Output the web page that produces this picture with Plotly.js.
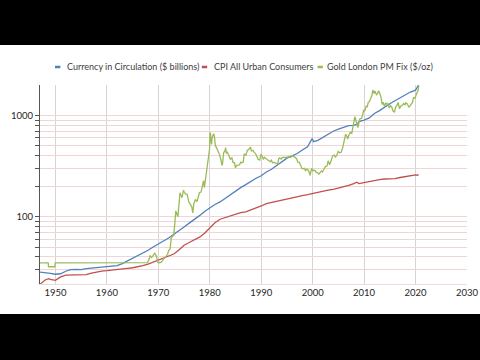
<!DOCTYPE html>
<html>
<head>
<meta charset="utf-8">
<script src="https://cdn.plot.ly/plotly-3.0.1.min.js"></script>
<style>
html,body{margin:0;padding:0;background:#000;width:480px;height:360px;overflow:hidden;}
#chart{position:absolute;left:0;top:45px;width:480px;height:269px;background:#fff;}
</style>
</head>
<body>
<div id="chart"></div>
<script>
// Currency in Circulation ($ billions)
const currYears = [1947,1948,1949,1950,1951,1952,1953,1954,1955,1956,1957,1958,1959,1960,1961,1962,1963,1964,1965,1966,1967,1968,1969,1970,1971,1972,1973,1974,1975,1976,1977,1978,1979,1980,1981,1982,1983,1984,1985,1986,1987,1988,1989,1990,1991,1992,1993,1994,1995,1996,1997,1998,1999,1999.9,2000.2,2001,2002,2003,2004,2005,2006,2007,2008,2008.7,2009,2010,2011,2012,2013,2014,2015,2016,2017,2018,2019,2020,2020.3,2020.6];
const currValues = [28.3,28.1,27.6,27.0,27.3,28.9,30.0,30.2,30.0,30.7,31.0,31.1,31.6,32.1,32.0,32.8,34.4,36.5,38.8,41.3,43.9,46.6,50.1,53.3,57.5,61.6,66.6,72.1,79.1,86.3,93.4,102.3,112.3,121.8,131.9,139.7,151.9,165.5,179.2,193.4,207.0,224.6,239.6,253.2,276.4,293.5,319.5,348.8,378.0,399.0,420.4,454.5,489.9,590,550,567,610,656,697,733,767,794,798,820,870,898,944,1043,1114,1213,1301,1394,1495,1594,1701,1774,1880,2000];

// CPI All Urban Consumers
const cpiYears = [1947,1948,1948.7,1949,1950,1951,1952,1953,1954,1955,1956,1957,1958,1959,1960,1961,1962,1963,1964,1965,1966,1967,1968,1969,1970,1971,1972,1973,1974,1975,1976,1977,1978,1979,1980,1981,1982,1983,1984,1985,1986,1987,1988,1989,1990,1991,1992,1993,1994,1995,1996,1997,1998,1999,2000,2001,2002,2003,2004,2005,2006,2007,2008,2008.55,2009,2010,2011,2012,2013,2014,2015,2016,2017,2018,2019,2020,2020.3,2020.6];
const cpiValues = [21.5,23.7,24.4,24.0,23.5,25.4,26.5,26.6,26.9,26.8,26.8,27.7,28.5,29.0,29.3,29.8,30.0,30.4,30.9,31.3,31.9,32.9,34.0,35.5,37.3,39.0,41.1,42.8,46.8,52.3,55.6,58.7,62.7,68.5,78.0,87.2,94.3,97.8,101.9,105.7,109.5,111.4,116.0,121.2,127.5,134.7,138.3,142.8,146.3,150.5,154.7,159.4,161.6,164.7,169.3,175.6,177.7,182.6,186.3,191.6,199.3,203.4,212.2,219.0,211.9,217.5,221.2,227.8,231.7,235.3,234.7,237.7,243.6,248.9,252.6,258.7,256.4,259.9];

// Gold London PM Fix ($/oz)
const goldYears = [1947.0,1948.6,1948.65,1949.9,1949.95,1955,1960,1962,1965,1967.9,1968.2,1968.4,1968.7,1969.0,1969.3,1969.6,1969.9,1970.2,1970.6,1970.9,1971.2,1971.5,1971.8,1972.0,1972.3,1972.5,1972.8,1973.0,1973.2,1973.4,1973.6,1973.8,1974.0,1974.2,1974.4,1974.6,1974.9,1975.0,1975.3,1975.6,1975.9,1976.2,1976.5,1976.7,1976.9,1977.2,1977.5,1977.8,1978.0,1978.3,1978.6,1978.8,1978.95,1979.2,1979.5,1979.7,1979.85,1979.95,1980.05,1980.15,1980.25,1980.35,1980.45,1980.6,1980.75,1980.9,1981.1,1981.3,1981.5,1981.7,1981.9,1982.1,1982.4,1982.5,1982.7,1982.9,1983.1,1983.2,1983.4,1983.6,1983.8,1984.0,1984.3,1984.5,1984.8,1985.0,1985.2,1985.5,1985.8,1986.0,1986.2,1986.5,1986.7,1987.0,1987.3,1987.6,1987.9,1988.1,1988.4,1988.6,1988.9,1989.2,1989.4,1989.7,1989.95,1990.1,1990.4,1990.6,1990.8,1991.1,1991.4,1991.7,1991.95,1992.2,1992.5,1992.7,1992.95,1993.2,1993.4,1993.6,1993.9,1994.1,1994.5,1994.9,1995.3,1995.7,1996.0,1996.3,1996.6,1996.9,1997.1,1997.4,1997.6,1997.9,1998.1,1998.4,1998.6,1998.9,1999.2,1999.5,1999.8,2000.0,2000.2,2000.5,2000.7,2000.95,2001.2,2001.4,2001.7,2001.9,2002.2,2002.5,2002.8,2003.0,2003.3,2003.6,2003.9,2004.2,2004.4,2004.7,2004.95,2005.2,2005.5,2005.8,2005.95,2006.2,2006.4,2006.6,2006.8,2007.0,2007.3,2007.6,2007.8,2007.95,2008.2,2008.4,2008.6,2008.8,2009.0,2009.2,2009.5,2009.7,2009.9,2010.1,2010.4,2010.6,2010.8,2011.0,2011.3,2011.5,2011.7,2011.8,2011.95,2012.1,2012.4,2012.6,2012.8,2013.0,2013.3,2013.5,2013.7,2013.95,2014.2,2014.4,2014.6,2014.9,2015.1,2015.4,2015.6,2015.9,2016.1,2016.4,2016.6,2016.9,2017.1,2017.4,2017.7,2017.95,2018.1,2018.4,2018.7,2018.95,2019.2,2019.4,2019.6,2019.9,2020.1,2020.3,2020.5,2020.6];
const goldValues = [35,35,32,32,35,35,35.2,35.1,35.1,35.2,38,41,39.5,42,43.5,41,35.5,35.1,35.6,37.4,38.9,40.5,42.5,46,48.5,61,64.8,65,84,114,106,100,129,172,163,154,183,176,167,166,141,132,125,109,134,148,141,158,173,175,200,227,193,240,280,340,390,460,675,665,553,517,600,630,660,620,500,480,460,430,410,375,320,340,430,440,480,420,437,414,396,370,380,345,340,303,320,320,325,345,340,345,418,400,450,462,487,445,451,433,420,388,368,362,410,405,368,386,380,366,360,349,361,341,343,340,335,330,372,380,370,385,385,384,390,383,400,393,385,372,346,344,324,300,297,300,285,294,286,256,300,285,287,285,274,272,262,270,283,276,296,314,316,356,326,363,400,406,385,405,441,427,430,470,510,560,650,633,585,630,680,665,760,800,970,890,840,760,850,930,935,1000,1130,1100,1230,1215,1340,1360,1480,1570,1780,1650,1640,1740,1600,1630,1750,1670,1500,1280,1350,1225,1330,1290,1310,1180,1250,1200,1110,1070,1200,1260,1340,1160,1230,1260,1310,1265,1330,1300,1200,1250,1300,1340,1500,1480,1590,1700,1780,1970];

const seriesNames = ['Currency in Circulation ($ billions)','CPI All Urban Consumers','Gold London PM Fix ($/oz)'];
const seriesColors = ['#4F81BD','#C0504D','#9BBB59'];

const xTickVals = [1950,1960,1970,1980,1990,2000,2010,2020,2030];
const yTickVals = [30,40,50,60,70,80,90,100,200,300,400,500,600,700,800,900,1000];
const yTickText = yTickVals.map(v => (v === 100 || v === 1000) ? String(v) : '');

const FONT = 'Lato, "Open Sans", sans-serif';

const traces = [
  {x: currYears, y: currValues, name: seriesNames[0], mode: 'lines', line: {color: seriesColors[0], width: 1.3}},
  {x: cpiYears, y: cpiValues, name: seriesNames[1], mode: 'lines', line: {color: seriesColors[1], width: 1.3}},
  {x: goldYears, y: goldValues, name: seriesNames[2], mode: 'lines', line: {color: seriesColors[2], width: 1.3}}
];

// legend drawn as text + short line markers
const legX = [0.0352, 0.379, 0.650];
const legTextX = [0.0586, 0.403, 0.668];
const legY = 1.0905;
const annotations = seriesNames.map((n, i) => ({
  xref: 'paper', yref: 'paper', x: legTextX[i], y: legY, xanchor: 'left', yanchor: 'middle',
  text: n, showarrow: false, font: {family: FONT, size: 9, color: '#404040'}
}));
const shapes = seriesNames.map((n, i) => ({
  type: 'line', xref: 'paper', yref: 'paper', x0: legX[i], x1: legX[i] + 0.0125, y0: legY, y1: legY,
  line: {color: seriesColors[i], width: 2.5}
}));

const layout = {
  width: 480, height: 269,
  margin: {l: 40, r: 13, t: 40, b: 30},
  paper_bgcolor: '#ffffff', plot_bgcolor: '#ffffff',
  showlegend: false,
  font: {family: FONT, size: 9, color: '#262626'},
  xaxis: {
    type: 'linear', range: [1947, 2030], tickvals: xTickVals, ticktext: xTickVals.map(String),
    showgrid: true, gridcolor: '#d9d2d5', gridwidth: 1, zeroline: false,
    showline: true, linecolor: '#ecdcdc', linewidth: 1, ticks: '',
    tickfont: {family: FONT, size: 9.5, color: '#262626'}
  },
  yaxis: {
    type: 'log', range: [1.335, 3.30], tickvals: yTickVals, ticktext: yTickText,
    showgrid: true, gridcolor: '#efd6d6', gridwidth: 1, zeroline: false,
    showline: true, linecolor: '#555555', linewidth: 1,
    ticks: 'outside', ticklen: 4, tickcolor: '#555555', tickwidth: 1,
    tickfont: {family: FONT, size: 9.5, color: '#262626'}
  },
  annotations: annotations,
  shapes: shapes
};

Plotly.newPlot('chart', traces, layout, {staticPlot: true, displayModeBar: false});
</script>
</body>
</html>
